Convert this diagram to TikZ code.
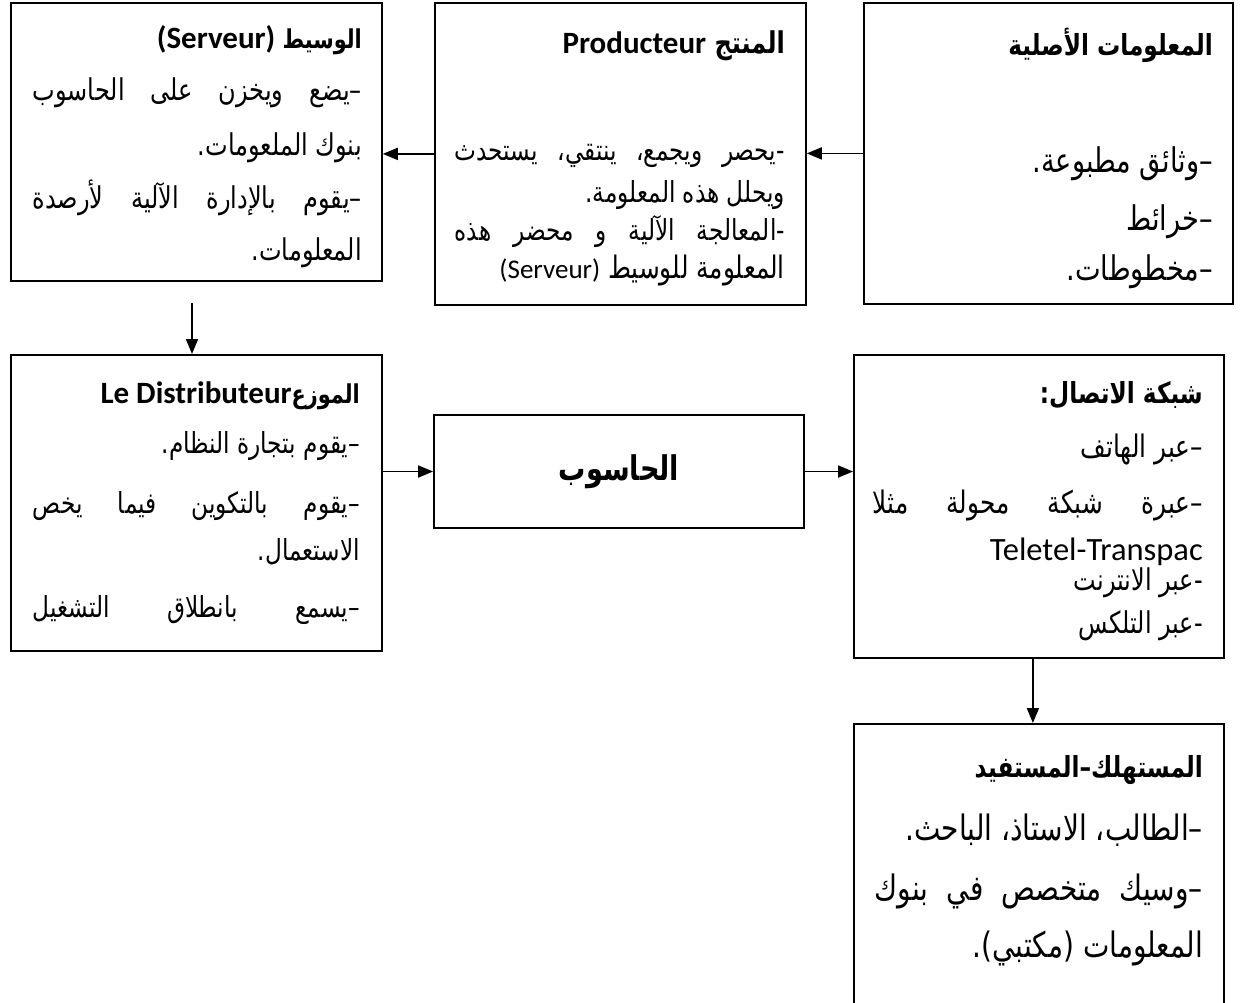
\documentclass[tikz,border=0pt]{standalone}
\usepackage{fontspec}
\setmainfont{Carlito}
\newfontfamily\arabicfont[Script=Arabic, FakeStretch=0.8]{DejaVu Sans}
\TeXXeTstate=1
\usetikzlibrary{arrows.meta}
\newcommand\AR[1]{{\arabicfont #1}}
\newcommand\ARJ[2]{\hbox to #1{\arabicfont\spaceskip=0.3em plus 1fil #2}}
\newcommand\LT[2]{\beginL{\rmfamily\fontsize{#1}{#1}\selectfont #2}\endL}
\newcommand\fs[1]{\fontsize{#1}{#1}\selectfont}
\tikzset{
  box/.style={draw, line width=1.8pt, anchor=north west, inner sep=0pt},
  arr/.style={line width=1.8pt, -{Triangle[length=15pt,width=12pt]}},
  ln/.style={anchor=base east, inner sep=0pt},
  bodyA/.style={ln, font=\fs{30}},
  bodyD/.style={ln, font=\fs{29}},
  bodyB/.style={ln, font=\fs{29}},
  bodyC/.style={ln, font=\fs{34}},
  bodyF/.style={ln, font=\fs{31}},
  bodyS/.style={ln, font=\fs{30}},
  bodyG/.style={ln, font=\fs{35}},
}
\begin{document}
\begin{tikzpicture}[x=1pt,y=-1pt]
\clip (0,0) rectangle (1240,1002);
\fill[white] (0,0) rectangle (1240,1002);
% boxes
\node[box, minimum width=371pt, minimum height=278pt] (A) at (10,2) {};
\node[box, minimum width=371pt, minimum height=302pt] (B) at (434,2) {};
\node[box, minimum width=369pt, minimum height=301pt] (C) at (863,2) {};
\node[box, minimum width=371pt, minimum height=296pt] (D) at (10,354) {};
\node[box, minimum width=370pt, minimum height=113pt, anchor=center,
      font=\fs{34}\bfseries] (E) at (619,471.5) {\AR{\beginR الحاسوب\endR}};
\node[box, minimum width=370pt, minimum height=303pt] (F) at (853,354) {};
\node[box, minimum width=370pt, minimum height=300pt] (G) at (853,723) {};
% box A
\node[ln, font=\fs{26}\bfseries] (a0) at (362,48) {\AR{\beginR الوسيط \LT{31}{(Serveur)}\endR}};
\node[bodyA] (a1) at (362,100) {\ARJ{329pt}{\beginR –يضع ويخزن على الحاسوب\endR}};
\node[bodyA] (a2) at (362,155) {\AR{\beginR بنوك الملعومات.\endR}};
\node[bodyA] (a3) at (362,208) {\ARJ{329pt}{\beginR –يقوم بالإدارة الآلية لأرصدة\endR}};
\node[bodyA] (a4) at (362,260) {\AR{\beginR المعلومات.\endR}};
% box B
\node[ln, font=\fs{30}\bfseries] (b0) at (785,53) {\AR{\beginR المنتج \LT{31}{Producteur}\endR}};
\node[bodyB] (b1) at (785,160) {\ARJ{330pt}{\beginR -يحصر ويجمع، ينتقي، يستحدث\endR}};
\node[bodyB] (b2) at (785,202) {\AR{\beginR ويحلل هذه المعلومة.\endR}};
\node[bodyB] (b3) at (785,240) {\ARJ{330pt}{\beginR -المعالجة الآلية و محضر هذه\endR}};
\node[ln, font=\fs{31}] (b4) at (785,278) {\AR{\beginR المعلومة للوسيط \LT{27}{(Serveur)}\endR}};
% box C
\node[ln, font=\fs{29}\bfseries] (c0) at (1213,55) {\AR{\beginR المعلومات الأصلية\endR}};
\node[bodyC] (c1) at (1213,172) {\AR{\beginR –وثائق مطبوعة.\endR}};
\node[bodyC] (c2) at (1213,230) {\AR{\beginR –خرائط\endR}};
\node[bodyC] (c3) at (1213,280) {\AR{\beginR –مخطوطات.\endR}};
% box D
\node[ln, font=\fs{26}\bfseries] (d0) at (360,403) {\AR{\beginR الموزع\LT{31}{Le Distributeur}\endR}};
\node[bodyD] (d1) at (360,453) {\AR{\beginR –يقوم بتجارة النظام.\endR}};
\node[bodyD] (d2) at (360,513) {\ARJ{327pt}{\beginR –يقوم بالتكوين فيما يخص\endR}};
\node[bodyD] (d3) at (360,560) {\AR{\beginR الاستعمال.\endR}};
\node[bodyD] (d4) at (360,617) {\ARJ{327pt}{\beginR –يسمع بانطلاق التشغيل\endR}};
% box F
\node[ln, font=\fs{29}\bfseries] (f0) at (1203,403) {\AR{\beginR شبكة الاتصال:\endR}};
\node[bodyF] (f1) at (1203,457) {\AR{\beginR –عبر الهاتف\endR}};
\node[bodyF] (f2) at (1203,513) {\ARJ{330pt}{\beginR –عبرة شبكة محولة مثلا\endR}};
\node[ln, font=\fs{32.5}] (f3) at (1203,560) {Teletel-Transpac};
\node[bodyS] (f4) at (1203,590) {\AR{\beginR -عبر الانترنت\endR}};
\node[bodyS] (f5) at (1203,633) {\AR{\beginR -عبر التلكس\endR}};
% box G
\node[ln, font=\fs{29}\bfseries] (g0) at (1203,777) {\AR{\beginR المستهلك–المستفيد\endR}};
\node[bodyG] (g1) at (1203,840) {\AR{\beginR –الطالب، الاستاذ، الباحث.\endR}};
\node[bodyG] (g2) at (1203,900) {\ARJ{328pt}{\beginR –وسيك متخصص في بنوك\endR}};
\node[bodyG] (g3) at (1203,957) {\AR{\beginR المعلومات (مكتبي).\endR}};
% connectors
\draw[arr] (C.west) -- (C.west -| B.east);
\draw[arr] (B.west) -- (B.west -| A.east);
\coordinate (ad) at (192,303);
\draw[arr] (ad) -- (ad |- D.north);
\draw[arr] (E.west -| D.east) -- (E.west);
\draw[arr] (E.east) -- (E.east -| F.west);
\draw[arr] ([xshift=-6pt]F.south) -- ([xshift=-6pt]G.north);
\end{tikzpicture}
\end{document}
